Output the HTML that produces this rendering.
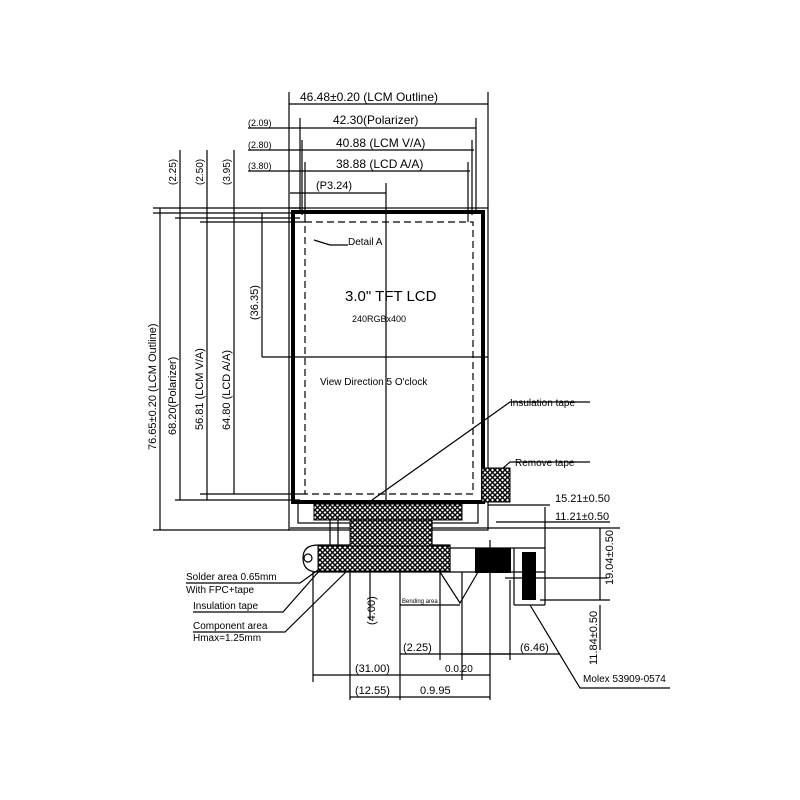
<!DOCTYPE html>
<html><head><style>
html,body{margin:0;padding:0;background:#fff;width:800px;height:800px;overflow:hidden}
svg{display:block}
text{font-family:"Liberation Sans",sans-serif;fill:#000}
</style></head><body>
<svg width="800" height="800" viewBox="0 0 800 800" xmlns="http://www.w3.org/2000/svg">
<defs>
<pattern id="h" width="5" height="5" patternUnits="userSpaceOnUse">
<rect width="5" height="5" fill="#fff"/><path d="M0 0L5 5M5 0L0 5" stroke="#000" stroke-width="1.4"/>
</pattern>
</defs>
<g stroke="#000" fill="none" stroke-width="1.2">
<!-- LCD outline -->
<rect x="289" y="208" width="199" height="322"/>
<rect x="293" y="212" width="190" height="290" stroke-width="4"/>
<rect x="305" y="222" width="168" height="272" stroke-dasharray="7,4"/>
<rect x="298" y="503" width="180" height="20"/>
<!-- crosshair -->
<line x1="262" y1="357" x2="488" y2="357"/>
<line x1="386" y1="183" x2="386" y2="500"/>
<!-- top dims -->
<line x1="289" y1="92" x2="289" y2="208"/><line x1="488" y1="92" x2="488" y2="208"/>
<line x1="289" y1="104" x2="488" y2="104"/>
<line x1="248" y1="128" x2="476" y2="128"/><line x1="300" y1="118" x2="300" y2="212"/><line x1="476" y1="118" x2="476" y2="212"/>
<line x1="248" y1="150" x2="474" y2="150"/><line x1="302" y1="140" x2="302" y2="215"/><line x1="472" y1="140" x2="472" y2="215"/>
<line x1="248" y1="171" x2="470" y2="171"/><line x1="305" y1="162" x2="305" y2="222"/><line x1="468" y1="162" x2="468" y2="222"/>
<line x1="290" y1="193" x2="386" y2="193"/>
<!-- left dims -->
<line x1="153" y1="208" x2="300" y2="208"/>
<line x1="153" y1="213" x2="300" y2="213"/>
<line x1="175" y1="218" x2="300" y2="218"/>
<line x1="200" y1="222" x2="305" y2="222"/>
<line x1="175" y1="500" x2="300" y2="500"/>
<line x1="200" y1="494" x2="305" y2="494"/>
<line x1="153" y1="530" x2="290" y2="530"/>
<line x1="160" y1="208" x2="160" y2="530"/>
<line x1="180" y1="150" x2="180" y2="500"/>
<line x1="207" y1="150" x2="207" y2="500"/>
<line x1="234" y1="150" x2="234" y2="494"/>
<line x1="262" y1="213" x2="262" y2="357"/>
<line x1="0" y1="528" x2="0" y2="528"/>
<!-- lower structure -->
<line x1="60" y1="528" x2="60" y2="528"/>
<line x1="290" y1="528" x2="620" y2="528"/>
<line x1="330" y1="520" x2="330" y2="548"/><line x1="338" y1="520" x2="338" y2="548"/>
<line x1="432" y1="520" x2="432" y2="548"/>
<line x1="488" y1="505" x2="550" y2="505"/>
<!-- FPC -->
<path d="M318 545 L450 545 L450 572 L318 572 Q303 572 303 558 Q303 545 318 545Z"/>
<circle cx="308" cy="558" r="4"/>
<line x1="450" y1="548" x2="545" y2="548"/>
<line x1="450" y1="572" x2="545" y2="572"/>
<line x1="514" y1="548" x2="514" y2="605"/><line x1="545" y1="548" x2="545" y2="605"/>
<line x1="514" y1="605" x2="545" y2="605"/>
<line x1="505" y1="578" x2="607" y2="578"/>
<line x1="545" y1="507" x2="545" y2="548"/>
<line x1="496" y1="522" x2="610" y2="522"/>
<line x1="600" y1="528" x2="600" y2="600"/>
<line x1="540" y1="600" x2="610" y2="600"/>
<line x1="600" y1="605" x2="600" y2="650"/>
<!-- bottom dims -->
<line x1="313" y1="572" x2="313" y2="682"/>
<line x1="350" y1="572" x2="350" y2="700"/>
<line x1="400" y1="572" x2="400" y2="700"/>
<line x1="440" y1="572" x2="440" y2="660"/>
<line x1="462" y1="572" x2="462" y2="680"/>
<line x1="490" y1="540" x2="490" y2="700"/>
<line x1="313" y1="675" x2="490" y2="675"/>
<line x1="350" y1="697" x2="490" y2="697"/>
<line x1="400" y1="654" x2="510" y2="654"/>
<line x1="400" y1="605" x2="460" y2="605"/>
<line x1="370" y1="572" x2="370" y2="620"/>
<line x1="510" y1="580" x2="510" y2="660"/>
<line x1="460" y1="654" x2="560" y2="654"/>
<!-- leaders -->
<polyline points="314,240 330,245 348,245"/>
<polyline points="372,500 510,402 590,402"/>
<polyline points="495,475 510,462 590,462"/>
<polyline points="186,583 300,583 318,570"/>
<polyline points="193,612 283,612 320,570"/>
<polyline points="193,632 285,632 348,570"/>
<polyline points="440,572 460,603 478,572"/>
<polyline points="530,605 580,688 670,688"/>
</g>
<!-- hatched fills -->
<g stroke="#000" stroke-width="1">
<rect x="314" y="504" width="148" height="16" fill="url(#h)"/>
<rect x="350" y="520" width="82" height="26" fill="url(#h)"/>
<rect x="318" y="546" width="132" height="25" fill="url(#h)"/>
<rect x="482" y="468" width="28" height="34" fill="url(#h)"/>
</g>
<rect x="475" y="548" width="36" height="25" fill="#000"/>
<rect x="522" y="552" width="14" height="48" fill="#000"/>
<!-- labels -->
<g font-size="11">
<text x="300" y="101" font-size="12">46.48±0.20 (LCM Outline)</text>
<text x="333" y="124" font-size="12">42.30(Polarizer)</text>
<text x="336" y="147" font-size="12">40.88 (LCM V/A)</text>
<text x="336" y="168" font-size="12">38.88 (LCD A/A)</text>
<text x="316" y="189">(P3.24)</text>
<text x="248" y="126" font-size="9">(2.09)</text>
<text x="248" y="148" font-size="9">(2.80)</text>
<text x="248" y="169" font-size="9">(3.80)</text>
<text x="348" y="245" font-size="10">Detail A</text>
<text x="345" y="301" font-size="15">3.0" TFT LCD</text>
<text x="352" y="322" font-size="9">240RGBx400</text>
<text x="320" y="385" font-size="10">View Direction 5 O'clock</text>
<text x="510" y="406" font-size="10">Insulation tape</text>
<text x="515" y="466" font-size="10">Remove tape</text>
<text x="555" y="502" font-size="11">15.21±0.50</text>
<text x="555" y="520" font-size="11">11.21±0.50</text>
<text x="186" y="580" font-size="10">Solder area 0.65mm</text>
<text x="186" y="593" font-size="10">With FPC+tape</text>
<text x="193" y="609" font-size="10">Insulation tape</text>
<text x="193" y="629" font-size="10">Component area</text>
<text x="193" y="641" font-size="10">Hmax=1.25mm</text>
<text x="402" y="603" font-size="6">Bending area</text>
<text x="403" y="651">(2.25)</text>
<text x="520" y="651">(6.46)</text>
<text x="355" y="672">(31.00)</text>
<text x="445" y="672" font-size="10">0.0.20</text>
<text x="355" y="694">(12.55)</text>
<text x="420" y="694">0.9.95</text>
<text x="583" y="682" font-size="10">Molex 53909-0574</text>
</g>
<g font-size="11">
<text transform="translate(156,450) rotate(-90)">76.65±0.20 (LCM Outline)</text>
<text transform="translate(176,435) rotate(-90)">68.20(Polarizer)</text>
<text transform="translate(203,430) rotate(-90)">56.81 (LCM V/A)</text>
<text transform="translate(230,430) rotate(-90)">64.80 (LCD A/A)</text>
<text transform="translate(258,320) rotate(-90)">(36.35)</text>
<text transform="translate(176,185) rotate(-90)" font-size="10">(2.25)</text>
<text transform="translate(203,185) rotate(-90)" font-size="10">(2.50)</text>
<text transform="translate(230,185) rotate(-90)" font-size="10">(3.95)</text>
<text transform="translate(375,625) rotate(-90)">(4.00)</text>
<text transform="translate(613,585) rotate(-90)">19.04±0.50</text>
<text transform="translate(597,665) rotate(-90)">11.84±0.50</text>
</g>
</svg>
</body></html>
